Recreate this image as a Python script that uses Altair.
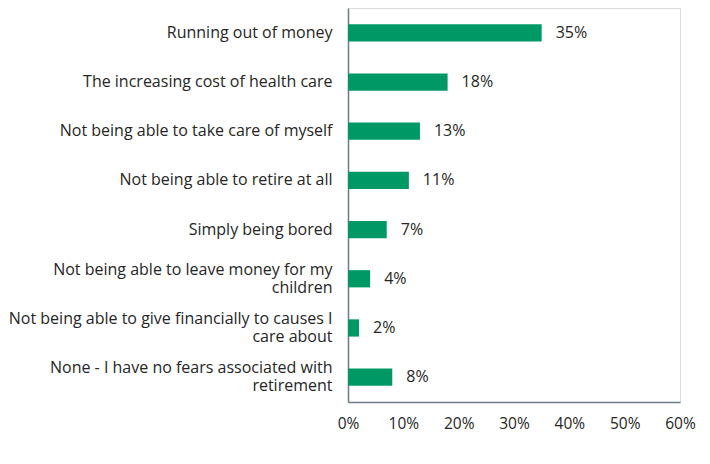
import altair as alt
import pandas as pd

categories = [
    "Running out of money",
    "The increasing cost of health care",
    "Not being able to take care of myself",
    "Not being able to retire at all",
    "Simply being bored",
    "Not being able to leave money for my|children",
    "Not being able to give financially to causes I|care about",
    "None - I have no fears associated with|retirement",
]
values = [0.35, 0.18, 0.13, 0.11, 0.07, 0.04, 0.02, 0.08]
tick_values = [0, 0.1, 0.2, 0.3, 0.4, 0.5, 0.6]

df = pd.DataFrame({"category": categories, "value": values})

FONT = "Open Sans"
GREEN = "#009966"
AXIS_GRAY = "#6F7B86"
TEXT = "#262626"

y = alt.Y(
    "category:N",
    sort=categories,
    title=None,
    scale=alt.Scale(paddingInner=0.65, paddingOuter=0.33),
    axis=alt.Axis(
        labelExpr="split(datum.label, '|')",
        labelFont=FONT,
        labelFontSize=16,
        labelColor=TEXT,
        labelPadding=16,
        labelLimit=400,
        labelLineHeight=18,
        labelOffset={"condition": {"test": "indexof(datum.label, '|') >= 0", "value": -9}, "value": 0},
        ticks=False,
        domainColor=AXIS_GRAY,
        domainWidth=1.5,
        grid=False,
    ),
)

x = alt.X(
    "value:Q",
    title=None,
    scale=alt.Scale(domain=[0, 0.6], nice=False),
    axis=alt.Axis(
        format=".0%",
        values=tick_values,
        labelFont=FONT,
        labelFontSize=15.5,
        labelColor=TEXT,
        labelPadding=14,
        labelFlush=False,
        ticks=False,
        grid=False,
        domainColor=AXIS_GRAY,
        domainWidth=1.5,
    ),
)

bars = alt.Chart(df).mark_bar(color=GREEN).encode(x=x, y=y)

text = alt.Chart(df).mark_text(
    align="left", baseline="middle", dx=14, font=FONT, fontSize=16, color=TEXT
).encode(
    x="value:Q",
    y=alt.Y("category:N", sort=categories),
    text=alt.Text("value:Q", format=".0%"),
)

chart = (
    (bars + text)
    .properties(width=332, height=394, padding={"left": 0, "top": 0, "right": 5, "bottom": 5})
    .configure_view(strokeWidth=0)
    .configure(background="white")
)

chart.save("out.html", embed_options={"renderer": "svg", "actions": False})
